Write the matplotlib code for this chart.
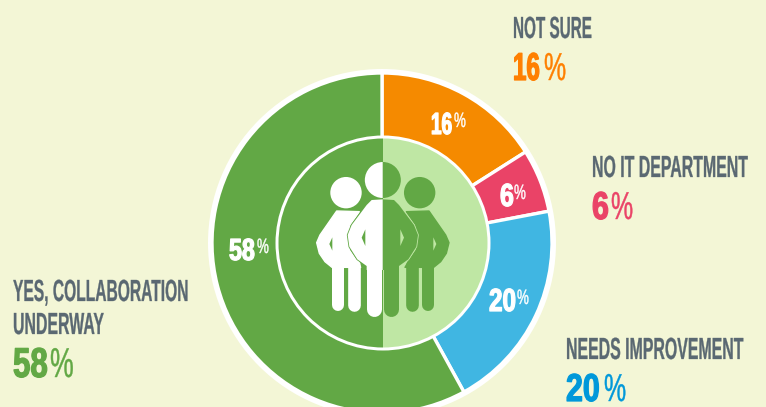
import matplotlib
matplotlib.use("Agg")
import matplotlib.pyplot as plt
from matplotlib.patches import Circle, Wedge, Polygon
from matplotlib.patheffects import AbstractPathEffect
from matplotlib.transforms import Affine2D

categories = ["NOT SURE", "NO IT DEPARTMENT", "NEEDS IMPROVEMENT", "YES, COLLABORATION\nUNDERWAY"]
values = [16, 6, 20, 58]
slice_colors = ["#F58A00", "#EA4367", "#40B6E2", "#62A845"]
label_colors = ["#FF7F00", "#EA4367", "#0098DA", "#62A845"]

BG = "#F3F6D6"
GREY = "#5A6872"
GREEN = "#62A845"
LIGHT = "#BFE7A4"
H = 407
plt.rcParams["font.family"] = ["Liberation Sans", "DejaVu Sans"]


class Tall(AbstractPathEffect):
    # no condensed font here: set the text small and stretch it up from the baseline
    def __init__(self, sy, lw=0):
        super().__init__()
        self.sy = sy
        self.lw = lw

    def draw_path(self, renderer, gc, tpath, affine, rgbFace=None):
        gc0 = renderer.new_gc()
        gc0.copy_properties(gc)
        gc0.set_linewidth(self.lw)
        renderer.draw_path(gc0, tpath, Affine2D().scale(1, self.sy) + affine, rgbFace)
        gc0.restore()


fig = plt.figure(figsize=(7.66, 4.07), dpi=100, facecolor=BG)
ax = fig.add_axes([0, 0, 1, 1])

cx, cy = 382, H - 243
ax.add_patch(Circle((cx, cy), 174, fc="white", ec="none"))
ax.pie(values, colors=slice_colors, startangle=90, counterclock=False, center=(cx, cy), radius=170,
       wedgeprops=dict(edgecolor="white", linewidth=2.4))
ax.set_xlim(0, 766)
ax.set_ylim(0, H)
ax.set_aspect("equal")
ax.axis("off")


def txt(x, y, s, size, color, sx, weight="bold", lw=0):
    ax.text(x, H - y, s, fontsize=size * sx, color=color, fontweight=weight, ha="left", va="baseline",
            path_effects=[Tall(1 / sx, lw)], zorder=10)


def pct(x, x2, y, val, size, color, sx, y2=None, size2=None, lw=0.9):
    txt(x, y, str(val), size, color, sx, lw=lw)
    txt(x2, y2 or y, "%", size2 or size, color, 0.64, weight="normal", lw=0.3)


# outside labels
txt(513, 38, categories[0], 22, GREY, 0.50, lw=0.2)
pct(513, 544, 80, values[0], 28, label_colors[0], 0.62)
txt(592, 177, categories[1], 22, GREY, 0.52, lw=0.2)
pct(592, 611, 219, values[1], 28, label_colors[1], 0.78)
txt(566, 359, categories[2], 22, GREY, 0.52, lw=0.2)
pct(566, 604, 401, values[2], 28, label_colors[2], 0.78)
first, second = categories[3].split("\n")
txt(13, 301, first, 22, GREY, 0.51, lw=0.2)
txt(13, 334, second, 22, GREY, 0.52, lw=0.2)
pct(13, 50, 377, values[3], 30, label_colors[3], 0.75)

# labels on the ring, % sits raised next to the digits
pct(431, 454, 134, values[0], 22, "white", 0.62, y2=127, size2=15)
pct(500, 514, 206, values[1], 23, "white", 0.78, y2=199, size2=15)
pct(489, 517, 311, values[2], 23, "white", 0.76, y2=304, size2=15)
pct(229, 257, 260, values[3], 22, "white", 0.76, y2=253, size2=15)

# inner disc, split down the middle
mx, my = 383, H - 243
ax.add_patch(Circle((mx, my), 107.5, fc="white", ec="none", zorder=3))
ax.add_patch(Wedge((mx, my), 104.5, 90, 270, fc=GREEN, ec="none", zorder=4))
ax.add_patch(Wedge((mx, my), 104.5, -90, 90, fc=LIGHT, ec="none", zorder=4))

# people icon, sketched from the zoomed crop (crop px = 3 x image px)
AXIS = 338.5
side_body = [(200, 243), (268, 245), (240, 285), (232, 320), (238, 360), (262, 395), (272, 412),
             (186, 412), (165, 395), (148, 370), (140, 338), (150, 315)]
side_slit = [(187, 322), (178, 342), (187, 362)]
mid_body = [(AXIS, 208), (305, 210), (290, 225), (245, 285), (233, 315), (238, 350), (262, 388),
            (290, 408), (290, 420), (AXIS, 420)]
mid_slit = [(286, 298), (275, 323), (286, 348)]


def to_xy(pts, sign):
    return [(270 + (AXIS + sign * (px - AXIS)) / 3, H - (130 + py / 3)) for px, py in pts]


def leg(px, w, top, bottom, sign, color, z):
    xy = to_xy([(px, top), (px, bottom - w / 2)], sign)
    ax.plot([xy[0][0], xy[1][0]], [xy[0][1], xy[1][1]], color=color, lw=w / 3 * 0.72,
            solid_capstyle="round", zorder=z)


for sign, fg, back in [(1, "white", GREEN), (-1, GREEN, LIGHT)]:
    side_c = to_xy([(228, 188)], sign)[0]
    ax.add_patch(Circle(side_c, 15.7, fc=fg, ec="none", zorder=5))
    ax.add_patch(Polygon(to_xy(side_body, sign), fc=fg, ec=fg, lw=1, joinstyle="round", zorder=5))
    ax.add_patch(Polygon(to_xy(side_slit, sign), fc=back, ec="none", zorder=6))
    leg(204, 36, 405, 543, sign, fg, 5)
    leg(251, 38, 405, 543, sign, fg, 5)
    # gap around the middle figure
    outline = to_xy(mid_body[1:8], sign)
    ax.add_patch(Polygon(to_xy(mid_body, sign), fc=fg, ec="none", zorder=7))
    ax.plot([p[0] for p in outline], [p[1] for p in outline], color=back, lw=1.2, zorder=6.5)
    ax.add_patch(Polygon(to_xy(mid_slit, sign), fc=back, ec="none", zorder=8))
    leg(313, 45, 405, 560, sign, fg, 7)
    head = to_xy([(AXIS, 150)], sign)[0]
    if sign == 1:
        ax.add_patch(Wedge(head, 18, 90, 270, fc=fg, ec="none", zorder=7))
    else:
        ax.add_patch(Wedge(head, 18, -90, 90, fc=fg, ec="none", zorder=7))

fig.savefig("out.png", dpi=100, facecolor=BG)
